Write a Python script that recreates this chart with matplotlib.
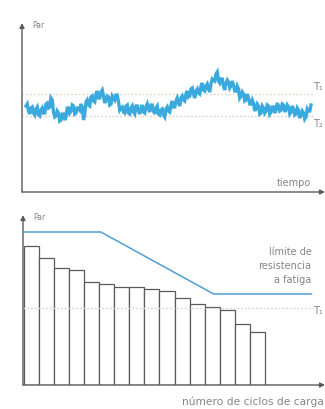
import numpy as np
import matplotlib
matplotlib.use("Agg")
import matplotlib.pyplot as plt

# Torque history (height above the time axis), sampled at even time steps
torque_history = [
    86, 88, 81, 78, 84, 85, 79, 77, 83, 85, 77, 76, 82, 84, 79, 79, 88, 89, 84, 85, 94, 92,
    80, 75, 76, 81, 79, 71, 72, 78, 78, 72, 75, 84, 84, 79, 81, 87, 86, 78, 79, 84,
    84, 82, 88, 85, 72, 78, 90, 92, 87, 86, 95, 96, 91, 90, 98, 101, 94, 94, 100, 102,
    96, 89, 92, 96, 95, 87, 88, 96, 94, 92, 97, 97, 90, 82, 84, 85, 80, 79, 86, 87,
    79, 78, 84, 86, 80, 78, 86, 86, 81, 78, 84, 87, 80, 79, 85, 88, 83, 80, 87, 87,
    81, 78, 84, 86, 78, 77, 82, 83, 77, 75, 83, 85, 81, 80, 87, 91, 85, 85, 91, 94,
    89, 86, 94, 96, 92, 91, 98, 101, 95, 96, 103, 104, 98, 94, 101, 103, 99, 98, 106, 109,
    102, 101, 106, 108, 103, 100, 108, 113, 112, 111, 118, 120, 111, 109, 113, 113, 106, 102, 109, 112,
    110, 104, 106, 111, 107, 101, 101, 106, 103, 94, 96, 100, 98, 91, 92, 98, 94, 88, 88, 92,
    89, 81, 84, 88, 86, 78, 79, 86, 84, 79, 81, 87, 86, 78, 80, 85, 85, 79, 82, 89,
    86, 81, 82, 88, 87, 80, 83, 87, 85, 78, 80, 86, 83, 77, 78, 84, 82, 74, 77, 81,
    79, 73, 75, 83, 81, 81, 87,
]
T1_top = 98
T2_top = 76

# Load blocks sorted by torque level
block_torque = [139, 127, 117, 115, 103, 101, 98, 98, 96, 94, 87, 81, 78, 75, 61, 53]
# Fatigue limit curve (cycles, torque)
limit_cycles = [0.0, 5.1, 12.6, 19.1]
limit_torque = [153, 153, 91, 91]
T1_bottom = 77

W, H = 325, 409
fig = plt.figure(figsize=(W / 100, H / 100), dpi=100)

AX_COLOR = "#5a5a5a"
TXT_COLOR = "#858585"
DASH_COLOR = "#dcd5cb"
SIG_COLOR = "#3aaade"
LIM_COLOR = "#4f9fd2"
FONT = ["Liberation Sans Narrow", "DejaVu Sans"]


def px_axes(left, top, right, bottom):
    return fig.add_axes([left / W, 1 - bottom / H, (right - left) / W, (bottom - top) / H])


def draw_arrows(ax):
    ax.set_axis_off()
    kw = dict(arrowstyle="-|>", color=AX_COLOR, lw=1.0, mutation_scale=7,
              shrinkA=0, shrinkB=0)
    ax.annotate("", xy=(0, 1), xytext=(0, 0), xycoords="axes fraction",
                textcoords="axes fraction", arrowprops=kw, annotation_clip=False)
    ax.annotate("", xy=(1.0, 0), xytext=(0, 0), xycoords="axes fraction",
                textcoords="axes fraction", arrowprops=kw, annotation_clip=False)


# ---- Top panel: torque vs time ----
ax1 = px_axes(22, 23, 325, 192)
t = np.arange(len(torque_history))
ax1.set_xlim(-3.2, 239.2)
ax1.set_ylim(0, 169)
draw_arrows(ax1)
ax1.axhline(T1_top, color=DASH_COLOR, lw=0.9, ls=(0, (1.5, 1.5)), xmax=0.96)
ax1.axhline(T2_top, color=DASH_COLOR, lw=0.9, ls=(0, (1.5, 1.5)), xmax=0.96)
ax1.plot(t, torque_history, color=SIG_COLOR, lw=2.4, solid_joinstyle="miter")
ax1.text(0.035, 0.985, "Par", transform=ax1.transAxes, fontsize=5.5,
         color=TXT_COLOR, family=FONT, va="center", ha="left")
ax1.text(0.955, 0.055, "tiempo", transform=ax1.transAxes, fontsize=7,
         color=TXT_COLOR, family=FONT, va="center", ha="right")
ax1.text(0.962, T1_top + 7, "T₁", transform=ax1.get_yaxis_transform(),
         fontsize=7, color=TXT_COLOR, family=FONT, va="center", ha="left")
ax1.text(0.962, T2_top - 8, "T₂", transform=ax1.get_yaxis_transform(),
         fontsize=7, color=TXT_COLOR, family=FONT, va="center", ha="left")

# ---- Bottom panel: load blocks vs number of cycles ----
ax2 = px_axes(23, 215, 325, 385)
ax2.set_xlim(-0.07, 20.0)
ax2.set_ylim(0, 170)
draw_arrows(ax2)
ax2.axhline(T1_bottom, color=DASH_COLOR, lw=0.9, ls=(0, (1.5, 1.5)), xmax=0.96)
idx = np.arange(len(block_torque))
ax2.bar(idx, block_torque, width=1.0, align="edge", color="white",
        edgecolor=AX_COLOR, linewidth=0.9)
ax2.plot(limit_cycles, limit_torque, color=LIM_COLOR, lw=1.1)
ax2.text(0.035, 0.985, "Par", transform=ax2.transAxes, fontsize=5.5,
         color=TXT_COLOR, family=FONT, va="center", ha="left")
ax2.text(0.955, 0.70, "límite de\nresistencia\na fatiga", transform=ax2.transAxes,
         fontsize=7, color=TXT_COLOR, family=FONT, va="center", ha="right",
         linespacing=1.45, multialignment="right")
ax2.text(0.962, T1_bottom - 3, "T₁", transform=ax2.get_yaxis_transform(),
         fontsize=7, color=TXT_COLOR, family=FONT, va="center", ha="left")
ax2.text(0.995, -0.1, "número de ciclos de carga", transform=ax2.transAxes,
         fontsize=7.7, color=TXT_COLOR, family=FONT, va="center", ha="right")

fig.savefig("out.png", dpi=100)
